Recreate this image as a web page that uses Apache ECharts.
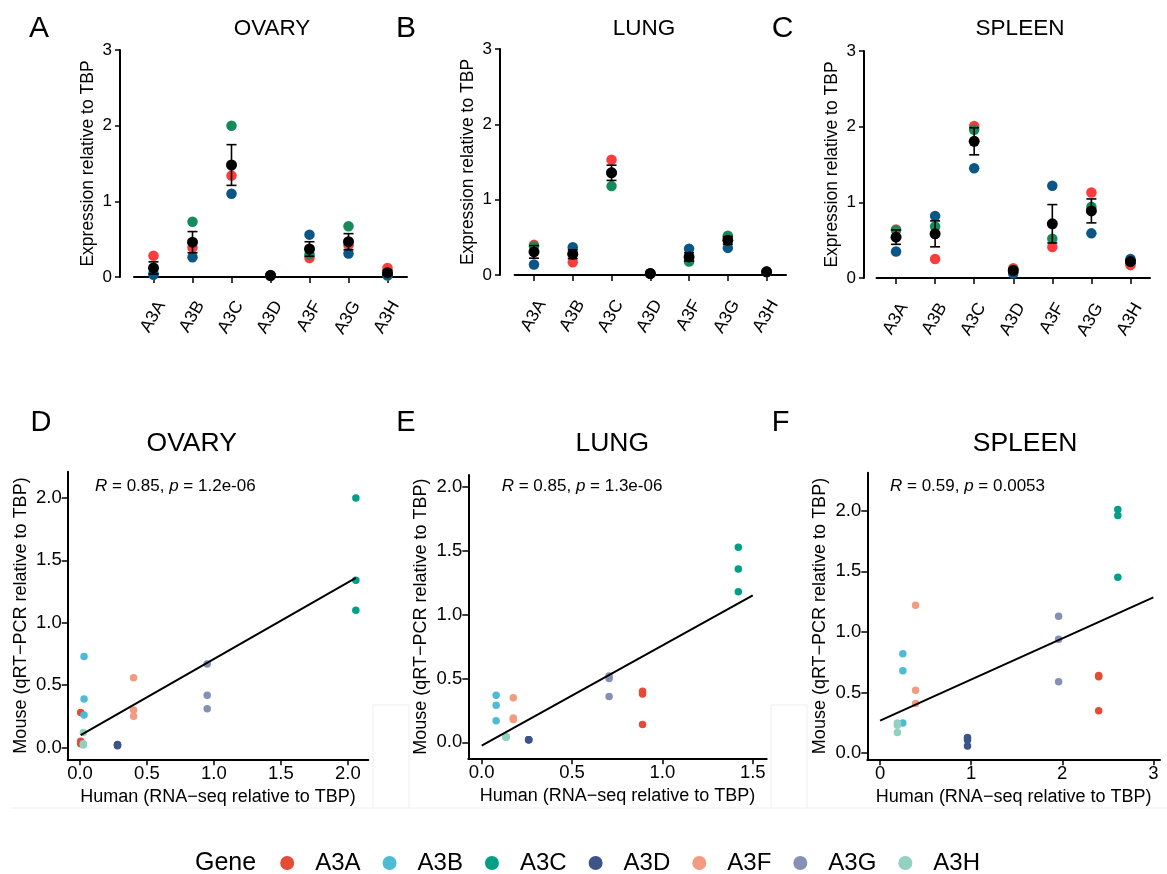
<!DOCTYPE html>
<html><head><meta charset="utf-8">
<script src="https://cdn.jsdelivr.net/npm/echarts@6/dist/echarts.min.js"></script>
<style>html,body{margin:0;padding:0;background:#fff}#c{width:1167px;height:874px}</style>
</head><body><div id="c"></div>
<script>
// ---------------- DATA ----------------
const genes = ['A3A', 'A3B', 'A3C', 'A3D', 'A3F', 'A3G', 'A3H'];
const tissues = ['OVARY', 'LUNG', 'SPLEEN'];
const panelLettersTop = ['A', 'B', 'C'];
const panelLettersBottom = ['D', 'E', 'F'];

// Mouse qRT-PCR, expression relative to TBP, three animals (red / green / blue)
const ovaryRed   = [0.28, 0.39, 1.34, 0.020, 0.25, 0.42, 0.12];
const ovaryGreen = [0.05, 0.73, 2.00, 0.025, 0.30, 0.67, 0.02];
const ovaryBlue  = [0.03, 0.26, 1.10, 0.015, 0.56, 0.31, 0.03];

const lungRed    = [0.40, 0.17, 1.53, 0.02, 0.19, 0.50, 0.040];
const lungGreen  = [0.38, 0.29, 1.18, 0.02, 0.18, 0.52, 0.040];
const lungBlue   = [0.14, 0.37, 1.36, 0.02, 0.35, 0.36, 0.045];

const spleenRed   = [0.64, 0.25, 2.01, 0.13, 0.41, 1.13, 0.17];
const spleenGreen = [0.63, 0.68, 1.96, 0.11, 0.52, 0.94, 0.23];
const spleenBlue  = [0.35, 0.82, 1.45, 0.06, 1.22, 0.59, 0.25];

// Human RNA-seq, relative to TBP (one value per gene)
const humanOvary  = [0.005, 0.03, 2.06, 0.28, 0.40, 0.95, 0.025];
const humanLung   = [0.89, 0.08, 1.42, 0.26, 0.175, 0.705, 0.135];
const humanSpleen = [2.40, 0.25, 2.61, 0.96, 0.39, 1.96, 0.19];

// x-range of the fitted line (null = data range)
const ovaryFitRange = null;
const lungFitRange = [0, 1.5];
const spleenFitRange = [0, 3];

// correlation annotations
const corR = ['0.85', '0.85', '0.59'];
const corP = ['1.2e-06', '1.3e-06', '0.0053'];

// tick labels
const topYTicks = [0, 1, 2, 3];
const ovaryXTicks = [0, 0.5, 1, 1.5, 2];
const lungXTicks = [0, 0.5, 1, 1.5];
const spleenXTicks = [0, 1, 2, 3];
const ovaryYTicks = [0, 0.5, 1, 1.5, 2];
const lungYTicks = [0, 0.5, 1, 1.5, 2];
const spleenYTicks = [0, 0.5, 1, 1.5, 2];

// ---------------- STYLE / LAYOUT ----------------
const FONT = '"Liberation Sans", Arial, Helvetica, sans-serif';
const repColors = ['#FA3C3C', '#138B5B', '#0C5587'];
const geneColors = ['#E64B35', '#4DBBD5', '#00A087', '#3C5488', '#F39B7F', '#8491B4', '#91D1C2'];

const topReps = [
  [ovaryRed, ovaryGreen, ovaryBlue],
  [lungRed, lungGreen, lungBlue],
  [spleenRed, spleenGreen, spleenBlue]
];
const humans = [humanOvary, humanLung, humanSpleen];
const fitRanges = [ovaryFitRange, lungFitRange, spleenFitRange];
const botXTicks = [ovaryXTicks, lungXTicks, spleenXTicks];
const botYTicks = [ovaryYTicks, lungYTicks, spleenYTicks];

const topLayout = [
  {left: 134,   top: 50, width: 273,   height: 227, xOff: 10, yOff: 14},
  {left: 514.6, top: 49, width: 271.4, height: 226, xOff: 11, yOff: 14.6},
  {left: 876.5, top: 51, width: 273.5, height: 227, xOff: 11, yOff: 12.5}
];
const botLayout = [
  {left: 67.7,  top: 471.7, width: 300.6, height: 287.6, xmin: -0.092, xmax: 2.153, ymin: -0.094, ymax: 2.21, fmt: 1},
  {left: 468.3, top: 475,   width: 298.4, height: 283.3, xmin: -0.074, xmax: 1.577, ymin: -0.125, ymax: 2.096, fmt: 1},
  {left: 867.3, top: 472.7, width: 292.7, height: 286.6, xmin: -0.14,  xmax: 3.073, ymin: -0.05,  ymax: 2.313, fmt: 0}
];

function mean(a) { return a.reduce((s, v) => s + v, 0) / a.length; }
function sem(a) {
  const m = mean(a);
  const sd = Math.sqrt(a.reduce((s, v) => s + (v - m) * (v - m), 0) / (a.length - 1));
  return sd / Math.sqrt(a.length);
}
function fitLine(hx, reps, range) {
  const xs = [], ys = [];
  reps.forEach(rep => rep.forEach((v, i) => { xs.push(hx[i]); ys.push(v); }));
  const mx = mean(xs), my = mean(ys);
  let sxy = 0, sxx = 0;
  xs.forEach((x, i) => { sxy += (x - mx) * (ys[i] - my); sxx += (x - mx) * (x - mx); });
  const b = sxy / sxx, a = my - b * mx;
  const lo = range ? range[0] : Math.min(...xs);
  const hi = range ? range[1] : Math.max(...xs);
  return [[lo, a + b * lo], [hi, a + b * hi]];
}

const grids = [], xAxes = [], yAxes = [], series = [];

// ---------- top panels ----------
topLayout.forEach((L, k) => {
  grids.push({left: L.left, top: L.top, width: L.width, height: L.height});
  xAxes.push({
    type: 'category', gridIndex: k, data: genes, boundaryGap: true, offset: L.xOff,
    axisLine: {show: true, lineStyle: {color: '#000', width: 2}},
    axisTick: {show: true, alignWithLabel: true, length: 6, lineStyle: {color: '#000', width: 1.5}},
    axisLabel: {rotate: 60, fontSize: 17.5, color: '#000', fontFamily: FONT, margin: 11, verticalAlign: 'top', align: 'right', interval: 0},
    splitLine: {show: false}
  });
  yAxes.push({
    type: 'value', gridIndex: k, min: 0, max: 3, interval: 1, offset: L.yOff,
    axisLine: {show: true, lineStyle: {color: '#000', width: 2}},
    axisTick: {show: true, length: 5, lineStyle: {color: '#000', width: 1.5}},
    axisLabel: {fontSize: 17, color: '#000', fontFamily: FONT, margin: 8, customValues: topYTicks},
    splitLine: {show: false},
    name: 'Expression relative to TBP', nameLocation: 'middle', nameGap: 23,
    nameTextStyle: {fontSize: 17.5, color: '#000', fontFamily: FONT}
  });
  const reps = topReps[k];
  reps.forEach((rep, r) => {
    series.push({
      type: 'scatter', name: 'rep' + r, xAxisIndex: k, yAxisIndex: k, silent: true,
      data: rep.map((v, i) => [i, v]), symbolSize: 10.5,
      itemStyle: {color: repColors[r], opacity: 1}, z: 2
    });
  });
  const stats = genes.map((g, i) => {
    const vals = reps.map(rep => rep[i]);
    return [i, mean(vals), sem(vals)];
  });
  series.push({
    type: 'custom', name: 'err', xAxisIndex: k, yAxisIndex: k, silent: true, z: 3,
    data: stats,
    encode: {x: 0, y: 1},
    renderItem: function (params, api) {
      const x = api.value(0), m = api.value(1), s = api.value(2);
      const top = api.coord([x, m + s]);
      const bot = api.coord([x, m - s]);
      const hw = 5;
      const st = {stroke: '#000', lineWidth: 1.6};
      return {type: 'group', children: [
        {type: 'line', shape: {x1: top[0], y1: top[1], x2: bot[0], y2: bot[1]}, style: st},
        {type: 'line', shape: {x1: top[0] - hw, y1: top[1], x2: top[0] + hw, y2: top[1]}, style: st},
        {type: 'line', shape: {x1: bot[0] - hw, y1: bot[1], x2: bot[0] + hw, y2: bot[1]}, style: st}
      ]};
    }
  });
  series.push({
    type: 'scatter', name: 'mean', xAxisIndex: k, yAxisIndex: k, silent: true,
    data: stats.map(s => [s[0], s[1]]), symbolSize: 11,
    itemStyle: {color: '#000', opacity: 1}, z: 4
  });
});

// ---------- bottom panels ----------
botLayout.forEach((L, j) => {
  const k = j + 3;
  grids.push({left: L.left, top: L.top, width: L.width, height: L.height});
  const fmt = v => v.toFixed(L.fmt);
  xAxes.push({
    type: 'value', gridIndex: k, min: L.xmin, max: L.xmax,
    axisLine: {show: true, onZero: false, lineStyle: {color: '#000', width: 2}},
    axisTick: {show: true, length: 6, customValues: botXTicks[j], lineStyle: {color: '#000', width: 1.5}},
    axisLabel: {fontSize: 18.5, color: '#000', fontFamily: FONT, margin: 5, customValues: botXTicks[j], formatter: fmt},
    splitLine: {show: false},
    name: 'Human (RNA\u2212seq relative to TBP)', nameLocation: 'middle', nameGap: 29,
    nameTextStyle: {fontSize: 18, color: '#000', fontFamily: FONT}
  });
  yAxes.push({
    type: 'value', gridIndex: k, min: L.ymin, max: L.ymax,
    axisLine: {show: true, onZero: false, lineStyle: {color: '#000', width: 2}},
    axisTick: {show: true, length: 6, customValues: botYTicks[j], lineStyle: {color: '#000', width: 1.5}},
    axisLabel: {fontSize: 18.5, color: '#000', fontFamily: FONT, margin: 6, customValues: botYTicks[j], formatter: v => v.toFixed(1)},
    splitLine: {show: false},
    name: 'Mouse (qRT\u2212PCR relative to TBP)', nameLocation: 'middle', nameGap: 38,
    nameTextStyle: {fontSize: 18, color: '#000', fontFamily: FONT}
  });
  const reps = topReps[j], hx = humans[j];
  genes.forEach((g, i) => {
    series.push({
      type: 'scatter', name: g, xAxisIndex: k, yAxisIndex: k, silent: true,
      data: reps.map(rep => [hx[i], rep[i]]), symbolSize: 7.5,
      itemStyle: {color: geneColors[i], opacity: 1}, z: 2
    });
  });
  series.push({
    type: 'line', name: 'fit', xAxisIndex: k, yAxisIndex: k, silent: true,
    data: fitLine(hx, reps, fitRanges[j]), symbol: 'none', showSymbol: false,
    lineStyle: {color: '#000', width: 2}, z: 5, animation: false
  });
});

// ---------- text elements ----------
function txt(x, y, text, size, extra) {
  return Object.assign({type: 'text', x: x, y: y, silent: true, z: 10,
    style: Object.assign({text: text, fontSize: size, fontFamily: FONT, fill: '#000',
      align: 'center', verticalAlign: 'middle'}, extra || {})});
}
const graphics = [];
const topLetterX = [39, 406, 782.5];
const topTitleX = [272, 644, 1020];
topLetterX.forEach((x, i) => graphics.push(txt(x, 29, panelLettersTop[i], 30)));
topTitleX.forEach((x, i) => graphics.push(txt(x, 29, tissues[i], 22.5)));
const botLetterX = [41, 406, 780.5];
const botTitleX = [191.7, 612.3, 1025];
botLetterX.forEach((x, i) => graphics.push(txt(x, 423, panelLettersBottom[i], 29)));
botTitleX.forEach((x, i) => graphics.push(txt(x, 444, tissues[i], 26.5)));
const annX = [95, 501.7, 890];
annX.forEach((x, i) => graphics.push(txt(x, 486,
  '{i|R} = ' + corR[i] + ', {i|p} = ' + corP[i], 17,
  {align: 'left', rich: {i: {fontStyle: 'italic', fontSize: 17, fontFamily: FONT, fill: '#000'}}})));
graphics.push(txt(195, 863, 'Gene', 25, {align: 'left'}));
// faint panel-border artefacts
const faint = {stroke: '#efefef', lineWidth: 1};
[[373, 705, 373, 808], [409, 705, 409, 808], [373, 705, 409, 705],
 [771, 705, 771, 808], [807, 705, 807, 808], [771, 705, 807, 705],
 [10, 808, 1167, 808]].forEach(s => graphics.push({type: 'line', silent: true, z: 0,
  shape: {x1: s[0], y1: s[1], x2: s[2], y2: s[3]}, style: faint}));

const chart = echarts.init(document.getElementById('c'), null, {renderer: 'canvas'});
chart.setOption({
  backgroundColor: '#fff',
  animation: false,
  grid: grids, xAxis: xAxes, yAxis: yAxes, series: series,
  legend: {
    data: genes, left: 280.2, top: 851, padding: 0, itemGap: 22,
    itemWidth: 46, itemHeight: 14, icon: 'circle', selectedMode: false,
    textStyle: {fontSize: 24, color: '#000', fontFamily: FONT}
  },
  graphic: graphics
});
</script></body></html>
